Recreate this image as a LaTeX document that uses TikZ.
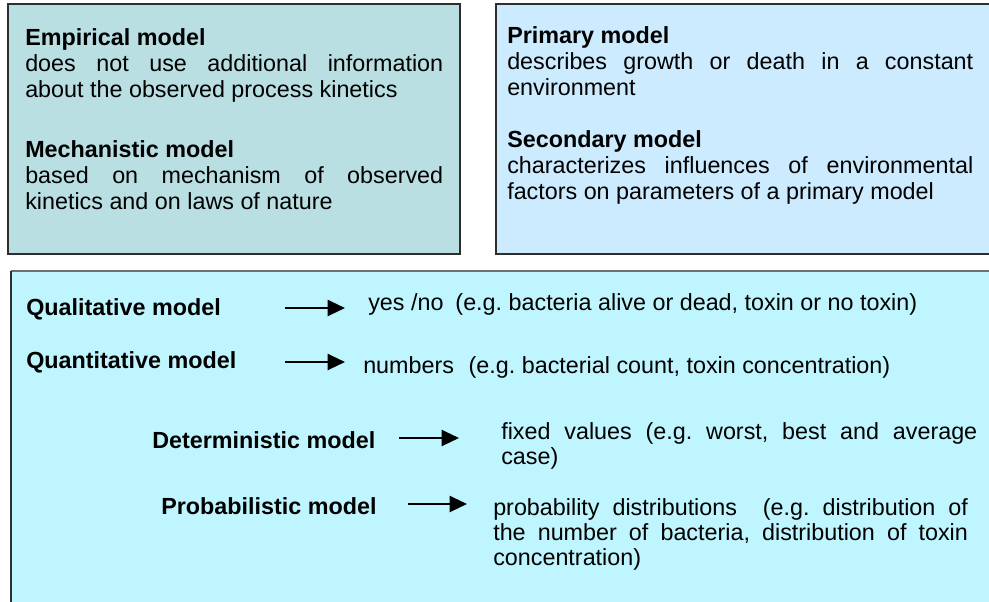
\documentclass[tikz,border=0pt]{standalone}
\usepackage{fontspec}
\setmainfont{Liberation Sans}
\usetikzlibrary{arrows.meta}
\definecolor{empfill}{HTML}{B9DFE3}
\definecolor{primfill}{HTML}{CCEBFE}
\definecolor{typefill}{HTML}{BFF5FE}
\definecolor{edgedark}{HTML}{2E2E2E}
\definecolor{edgegray}{HTML}{707070}
\hyphenpenalty=10000
\exhyphenpenalty=10000
\frenchspacing
\begin{document}
\begin{tikzpicture}[x=0.75pt,y=-0.75pt,
  txt/.style={inner sep=0pt,anchor=base west,
    font=\fontsize{17.5pt}{19.5pt}\selectfont},
  para/.style={txt,text width=#1,align=justify},
  lbl/.style={txt,font=\fontsize{17.5pt}{19.5pt}\selectfont\bfseries},
  arr/.style={-{Triangle[length=13pt,width=12pt]},line width=1.6pt}]
\useasboundingbox (0,0) rectangle (989,601);
\clip (0,0) rectangle (989,601);

% panels
\draw[edgedark,line width=0.9pt,fill=empfill] (8,4) rectangle (460,254);
\draw[edgedark,line width=0.9pt,fill=primfill] (496,4) rectangle (995,254);
\fill[typefill] (11,271) rectangle (995,610);
\draw[edgegray,line width=1.5pt] (11,271) -- (995,271);
\draw[edgedark,line width=0.9pt] (11,271) -- (11,610);

% upper left panel
\node[para=313.5pt] (emp) at (25,45)
  {\textbf{Empirical model}\\
   does not use additional information\linebreak
   about the observed process kinetics};
\node[para=313.5pt] (mech) at (25,157)
  {\textbf{Mechanistic model}\\
   based on mechanism of observed\linebreak
   kinetics and on laws of nature};

% upper right panel
\node[para=349.5pt] (prim) at (507,43)
  {\textbf{Primary model}\\
   describes growth or death in a constant\linebreak
   environment};
\node[para=349.5pt] (sec) at (507,147)
  {\textbf{Secondary model}\\
   characterizes influences of environmental\linebreak
   factors on parameters of a primary model};

% lower panel: model types
\node[lbl] (qual) at (26,315) {Qualitative model};
\node[lbl] (quant) at (26,368) {Quantitative model};
\node[lbl] (det) at (152,448) {Deterministic model};
\node[lbl] (prob) at (161,514) {Probabilistic model};

\node[txt] (qualtxt) at (368,310)
  {yes /no\hspace{9pt}(e.g. bacteria alive or dead, toxin or no toxin)};
\node[txt] (quanttxt) at (363,373)
  {numbers\hspace{11pt}(e.g. bacterial count, toxin concentration)};
\node[para=357pt,font=\fontsize{17.5pt}{18.75pt}\selectfont] (dettxt) at (501,439)
  {fixed values (e.g. worst, best and average\linebreak case)};
\node[para=356pt,font=\fontsize{17.5pt}{18.75pt}\selectfont] (probtxt) at (493,515)
  {probability distributions\ \ (e.g. distribution of\linebreak
   the number of bacteria, distribution of toxin\linebreak
   concentration)};

% arrow end points
\coordinate (q1) at (285,308);  \coordinate (q2) at (345,308);
\coordinate (n1) at (285,362);  \coordinate (n2) at (345,362);
\coordinate (d1) at (399,438);  \coordinate (d2) at (459,438);
\coordinate (p1) at (408,504);  \coordinate (p2) at (467,504);
\draw[arr] (q1) -- (q2);
\draw[arr] (n1) -- (n2);
\draw[arr] (d1) -- (d2);
\draw[arr] (p1) -- (p2);
\end{tikzpicture}
\end{document}
